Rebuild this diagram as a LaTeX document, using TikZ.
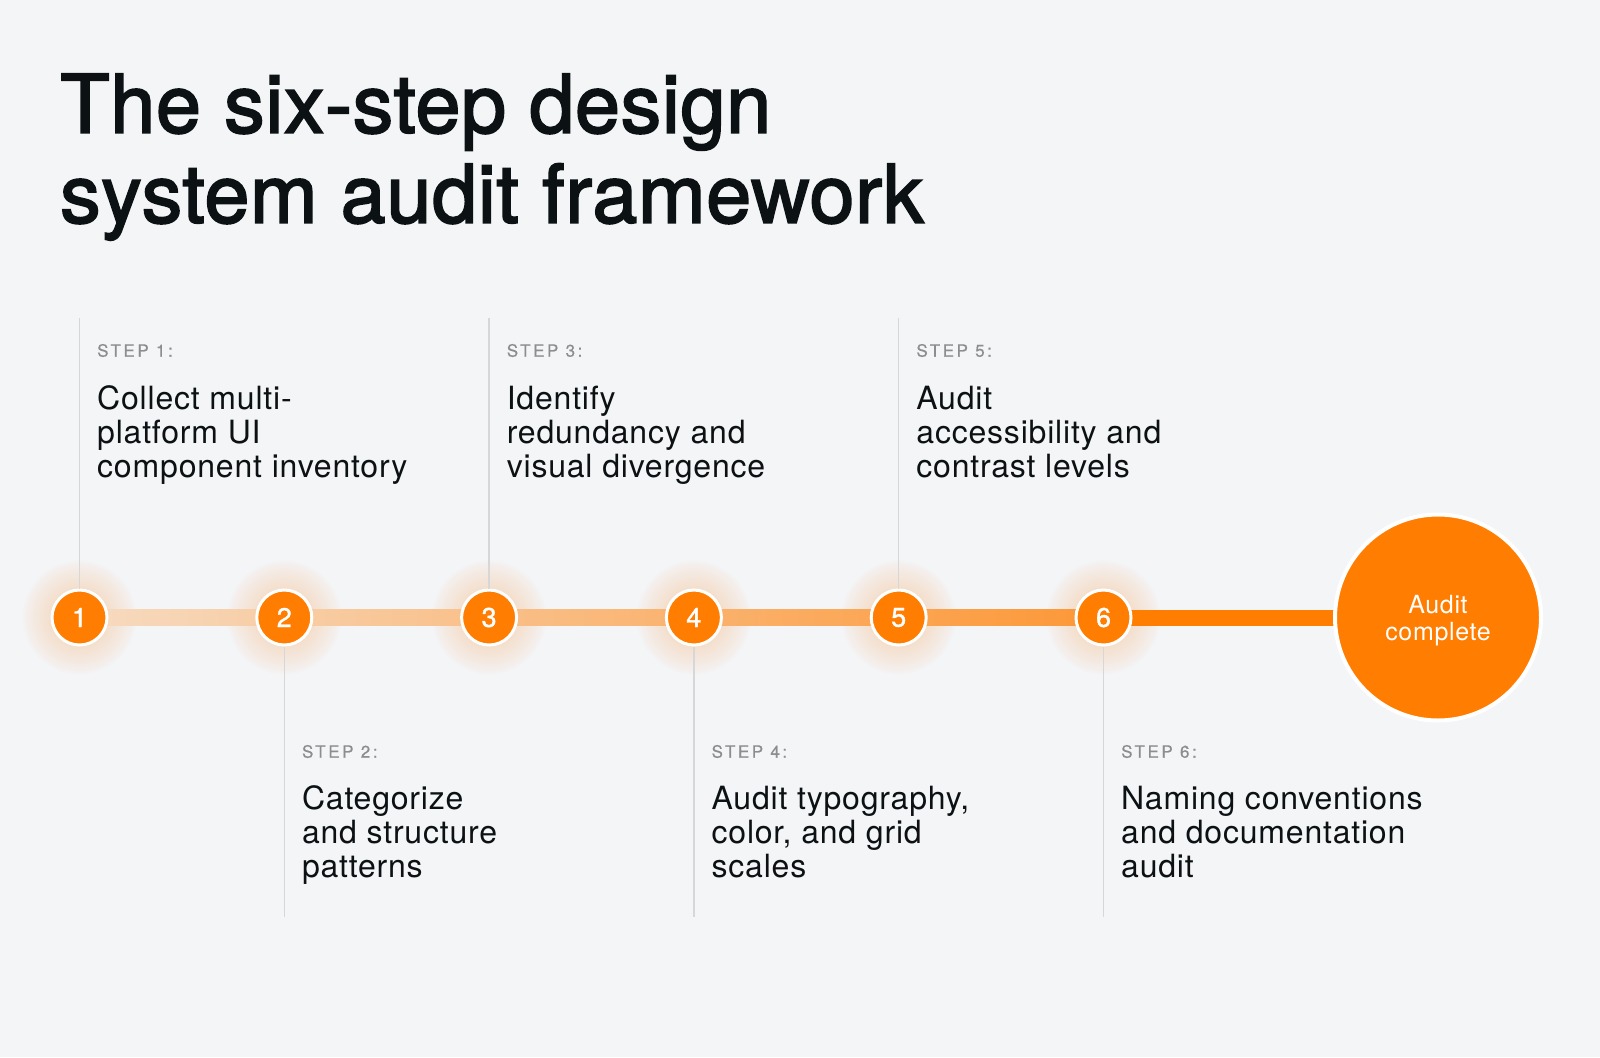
\documentclass[tikz,border=0pt]{standalone}
\usepackage{fontspec}
\setmainfont{TeX Gyre Heros}
\newfontfamily\titlefont{TeX Gyre Heros}[FakeBold=2.2, LetterSpace=0.8]
\newfontfamily\bodyfont{TeX Gyre Heros}[LetterSpace=2.5]
\newfontfamily\numfont{TeX Gyre Heros}[FakeBold=1.2]
\newfontfamily\capsfont{TeX Gyre Heros}[LetterSpace=15, FakeBold=0.6]
\usetikzlibrary{calc}

\definecolor{bg}{HTML}{F4F5F7}
\definecolor{ink}{HTML}{0C1113}
\definecolor{accent}{HTML}{FF7D00}
\definecolor{glowc}{HTML}{FF9A40}
\definecolor{muted}{HTML}{8C8D8E}
\definecolor{rule}{HTML}{D5D7D9}

\tikzset{
  stepnum/.style={circle, fill=accent, draw=white, line width=3pt,
    minimum size=55pt, inner sep=0pt, text=white,
    font=\numfont\fontsize{27}{27}\selectfont},
  finish/.style={circle, fill=accent, draw=white, line width=4pt,
    minimum size=206pt, inner sep=0pt},
  finishtext/.style={inner sep=0pt, text=white, align=center,
    font=\bodyfont\fontsize{25}{27}\selectfont},
  tag/.style={anchor=base west, inner sep=0pt, text=muted,
    font=\capsfont\fontsize{17}{18}\selectfont},
  desc/.style={anchor=base west, inner sep=0pt, text=ink, align=left,
    font=\bodyfont\fontsize{32}{34}\selectfont},
  guide/.style={draw=rule, line width=1.3pt},
  halo/.style={fill=glowc, opacity=0.011},
}

\begin{document}
\begin{tikzpicture}[x=1pt, y=-1pt]
  % canvas
  \fill[bg] (0,0) rectangle (1600,1057);
  \useasboundingbox (0,0) rectangle (1600,1057);

  % title (anchored on the baseline of its last line)
  \node[anchor=base west, inner sep=0pt, text=ink, align=left,
        font=\titlefont\fontsize{81}{90}\selectfont]
        (title) at (60,222.7) {The six-step design\\system audit framework};

  % timeline positions
  \coordinate (p1) at (79.5,617.5);
  \coordinate (p2) at (284.3,617.5);
  \coordinate (p3) at (489.1,617.5);
  \coordinate (p4) at (693.9,617.5);
  \coordinate (p5) at (898.7,617.5);
  \coordinate (p6) at (1103.5,617.5);
  \coordinate (pe) at (1438,617.5);

  % soft glow around the step markers
  \foreach \p in {p1,p2,p3,p4,p5,p6}{
    \foreach \r in {30,31.5,...,57}{
      \fill[halo] (\p) circle (\r);
    }
  }

  % guide line ends
  \coordinate (t1) at (79.5,318);
  \coordinate (t3) at (489.1,318);
  \coordinate (t5) at (898.7,318);
  \coordinate (b2) at (284.3,917);
  \coordinate (b4) at (693.9,917);
  \coordinate (b6) at (1103.5,917);

  % progress bar
  \shade[left color=accent!22!bg, right color=accent!78!bg]
    ($(p1)+(0,-8)$) rectangle ($(p6)+(0,8)$);
  \fill[accent] ($(p6)+(0,-8)$) rectangle ($(pe)+(0,8)$);

  % markers
  \node[stepnum] (c1) at (p1) {1};
  \node[stepnum] (c2) at (p2) {2};
  \node[stepnum] (c3) at (p3) {3};
  \node[stepnum] (c4) at (p4) {4};
  \node[stepnum] (c5) at (p5) {5};
  \node[stepnum] (c6) at (p6) {6};
  \node[finish] (done) at (pe) {};
  \node[finishtext] (donelabel) at ($(pe)+(0,3)$) {Audit\\complete};

  % guide lines
  \draw[guide] (c1.north) -- (t1);
  \draw[guide] (c3.north) -- (t3);
  \draw[guide] (c5.north) -- (t5);
  \draw[guide] (c2.south) -- (b2);
  \draw[guide] (c4.south) -- (b4);
  \draw[guide] (c6.south) -- (b6);

  % step labels, upper row (descriptions anchored on their last line)
  \node[tag] (s1) at (97,356.7) {STEP 1:};
  \node[desc] (d1) at (97,477) {Collect multi-\\platform UI\\component inventory};
  \node[tag] (s3) at (506.6,356.7) {STEP 3:};
  \node[desc] (d3) at (506.6,477) {Identify\\redundancy and\\visual divergence};
  \node[tag] (s5) at (916.2,356.7) {STEP 5:};
  \node[desc] (d5) at (916.2,477) {Audit\\accessibility and\\contrast levels};

  % step labels, lower row
  \node[tag] (s2) at (301.8,757.7) {STEP 2:};
  \node[desc] (d2) at (301.8,877) {Categorize\\and structure\\patterns};
  \node[tag] (s4) at (711.4,757.7) {STEP 4:};
  \node[desc] (d4) at (711.4,877) {Audit typography,\\color, and grid\\scales};
  \node[tag] (s6) at (1121,757.7) {STEP 6:};
  \node[desc] (d6) at (1121,877) {Naming conventions\\and documentation\\audit};
\end{tikzpicture}
\end{document}
